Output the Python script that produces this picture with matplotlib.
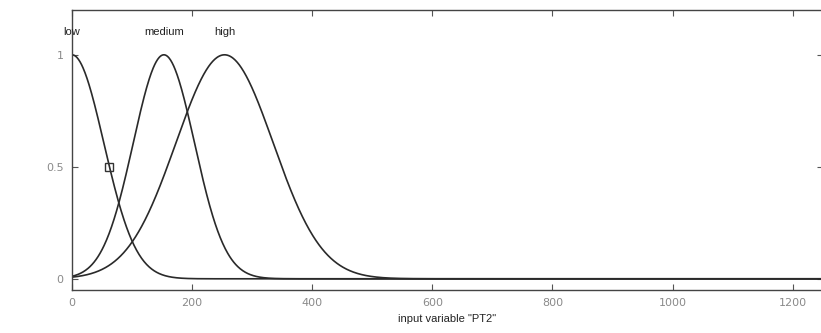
import numpy as np
import matplotlib
matplotlib.use("Agg")
from matplotlib import pyplot as plt

# gaussian membership functions for input "PT2": (name, sigma, center)
mf_names = ["low", "medium", "high"]
mf_sigma = [53, 51, 81]
mf_center = [0, 153, 254]
x_range = [0, 1250]
y_ticks = [0, 0.5, 1]
x_ticks = [0, 200, 400, 600, 800, 1000, 1200]
marker_pt = (62, 0.5)

x = np.linspace(x_range[0], x_range[1], 1500)

fig = plt.figure(figsize=(8.21, 3.33), dpi=100)
ax = fig.add_axes([72 / 821, 43 / 333, 1 - 72 / 821 + 0.002, 280 / 333])

for name, s, c in zip(mf_names, mf_sigma, mf_center):
    y = np.exp(-(x - c) ** 2 / (2 * s ** 2))
    ax.plot(x, y, color="#2a2a2a", lw=1.2)
    ax.text(c, 1.1, name, ha="center", va="center", fontsize=8,
            color="#222222", family="Liberation Sans")

ax.plot(*marker_pt, marker="s", ms=6, mfc="none", mec="#333333", mew=1)

ax.set_xlim(x_range)
ax.set_ylim(-0.05, 1.2)
ax.set_xticks(x_ticks)
ax.set_yticks(y_ticks)
ax.set_yticklabels(["0", "0.5", "1"])
ax.tick_params(direction="in", length=4, top=True, right=True, pad=6,
               labelsize=8, labelcolor="#8a8a8a", color="#555555")
for sp in ax.spines.values():
    sp.set_color("#444444")
    sp.set_linewidth(1)
ax.set_xlabel('input variable "PT2"', fontsize=8, color="#222222",
              family="Liberation Sans", labelpad=4)

fig.savefig("out.png", dpi=100)
